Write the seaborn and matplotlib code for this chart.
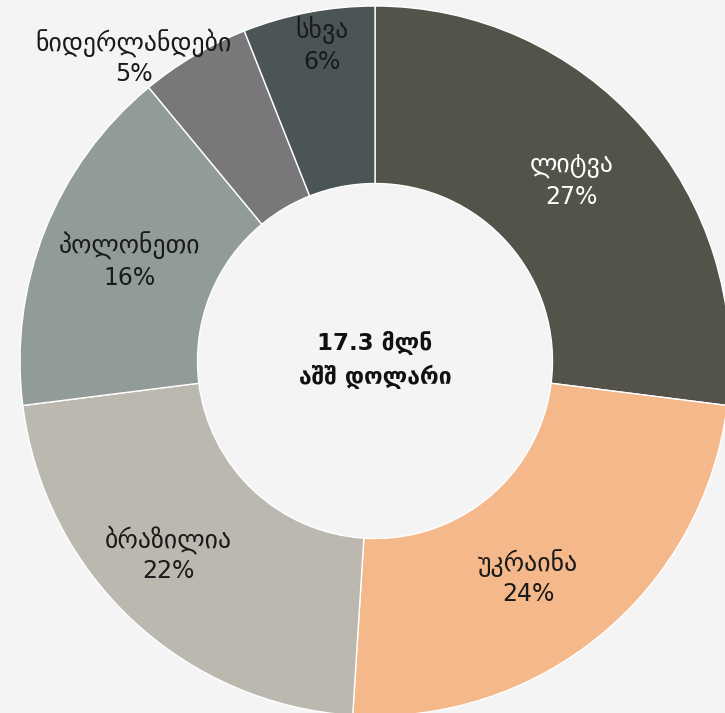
import numpy as np
import matplotlib
matplotlib.use("Agg")
import matplotlib.pyplot as plt
import seaborn as sns

# Export destinations and their shares (%)
countries = ["ლიტვა", "უკრაინა", "ბრაზილია", "პოლონეთი", "ნიდერლანდები", "სხვა"]
shares = [27, 24, 22, 16, 5, 6]
colors = ["#535349", "#F4B88A", "#BBB8AF", "#919C99", "#78787A", "#4C5556"]
text_colors = ["white", "#1a1a1a", "#1a1a1a", "#1a1a1a", "#1a1a1a", "#1a1a1a"]
center_lines = ["17.3 მლნ", "აშშ დოლარი"]

sns.set_theme(style="white")
plt.rcParams["font.family"] = ["DejaVu Sans"]

bg = "#F4F4F4"
fig = plt.figure(figsize=(7.25, 7.13), dpi=100, facecolor=bg)
ax = fig.add_axes([0, 0, 1, 1])
ax.set_facecolor(bg)

wedges, _ = ax.pie(
    shares,
    colors=colors,
    startangle=90,
    counterclock=False,
    radius=1.0,
    wedgeprops=dict(width=0.5, edgecolor="white", linewidth=1.0),
)

# label placement: radius and angular nudge (deg) per wedge;
# the two narrow slices get their labels pushed outward
label_r = [0.75, 0.75, 0.80, 0.745, 1.09, 0.90]
label_nudge = [0.9, -4.4, -3.6, -0.4, 8.0, -1.3]
half_gap = 0.044
for w, name, s, tc, r, nd in zip(wedges, countries, shares, text_colors, label_r, label_nudge):
    ang = np.deg2rad((w.theta1 + w.theta2) / 2 + nd)
    x = r * np.cos(ang)
    y = r * np.sin(ang)
    ax.text(x, y + half_gap, name, ha="center", va="center", fontsize=18.5, color=tc)
    ax.text(x, y - half_gap, f"{s}%", ha="center", va="center", fontsize=17, color=tc)

ax.text(0, 0.052, center_lines[0], ha="center", va="center", fontsize=16.5,
        fontweight="bold", color="#111111")
ax.text(0, -0.044, center_lines[1], ha="center", va="center", fontsize=16.5,
        fontweight="bold", color="#111111")

R_PX = 355
ax.set_xlim(-375 / R_PX, 350 / R_PX)
ax.set_ylim(-352 / R_PX, 361 / R_PX)
ax.set_aspect("auto")
ax.axis("off")

fig.savefig("out.png", dpi=100, facecolor=bg)
